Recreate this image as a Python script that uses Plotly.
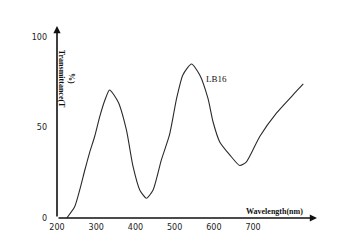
import plotly.graph_objects as go

wavelength = [225, 245, 258, 271, 283, 296, 309, 322, 334, 356, 377, 394, 411, 428, 445, 466, 487, 505, 521, 543, 564, 585, 598, 615, 640, 666, 683, 717, 760, 802, 828]
transmittance = [0, 6.2, 15.5, 26.5, 36, 45, 56, 65, 70.7, 64, 48.6, 28.3, 15.5, 10.9, 15.5, 32, 46, 66, 79, 85, 79, 66, 53, 42, 35, 29, 31, 45, 58, 68, 74]
x_ticks = [200, 300, 400, 500, 600, 700]
y_ticks = [0, 50, 100]
series_label = "LB16"
x_title = "Wavelength(nm)"
y_title_1 = "Transmittance(T"
y_title_2 = "%)"

X0, X1 = 200, 863
Y0, Y1 = 0, 106

fig = go.Figure()
fig.add_trace(go.Scatter(x=wavelength, y=transmittance, mode="lines",
                         line=dict(color="#2a2a2a", width=1.1, shape="spline", smoothing=0.6),
                         hoverinfo="skip", showlegend=False))

title_font = dict(family="Liberation Serif", size=8, color="#111111")
fig.add_annotation(x=X1, y=0, ax=X0, ay=0, xref="x", yref="y", axref="x", ayref="y",
                   showarrow=True, arrowhead=2, arrowsize=0.9, arrowwidth=1.6,
                   arrowcolor="#111111", text="")
fig.add_annotation(x=X0, y=Y1, ax=X0, ay=0, xref="x", yref="y", axref="x", ayref="y",
                   showarrow=True, arrowhead=2, arrowsize=0.9, arrowwidth=1.6,
                   arrowcolor="#111111", text="")
fig.add_annotation(x=755, y=3.5, xref="x", yref="y", text="<b>" + x_title + "</b>",
                   showarrow=False, font=title_font)
fig.add_annotation(x=607, y=76.8, xref="x", yref="y", text=series_label,
                   showarrow=False, font=dict(family="Liberation Serif", size=9, color="#111111"))
fig.add_annotation(x=212, y=77, xref="x", yref="y", text="<b>" + y_title_1 + "</b>",
                   showarrow=False, textangle=90, font=title_font)
fig.add_annotation(x=237, y=77, xref="x", yref="y", text="<b>" + y_title_2 + "</b>",
                   showarrow=False, textangle=90, font=title_font)

tick_font = dict(family="DejaVu Sans", size=8, color="#222222")
fig.update_layout(
    width=341, height=245,
    margin=dict(l=57, r=24, t=26, b=27),
    paper_bgcolor="white", plot_bgcolor="white",
    xaxis=dict(range=[X0, X1], tickvals=x_ticks, ticktext=[str(v) for v in x_ticks],
               showgrid=False, zeroline=False, showline=False, ticks="",
               tickfont=tick_font, ticklabelstandoff=3, fixedrange=True),
    yaxis=dict(range=[Y0, Y1], tickvals=y_ticks, ticktext=[str(v) for v in y_ticks],
               showgrid=False, zeroline=False, showline=False, ticks="",
               tickfont=tick_font, ticklabelstandoff=9, fixedrange=True),
)
fig.write_html("out.html")
